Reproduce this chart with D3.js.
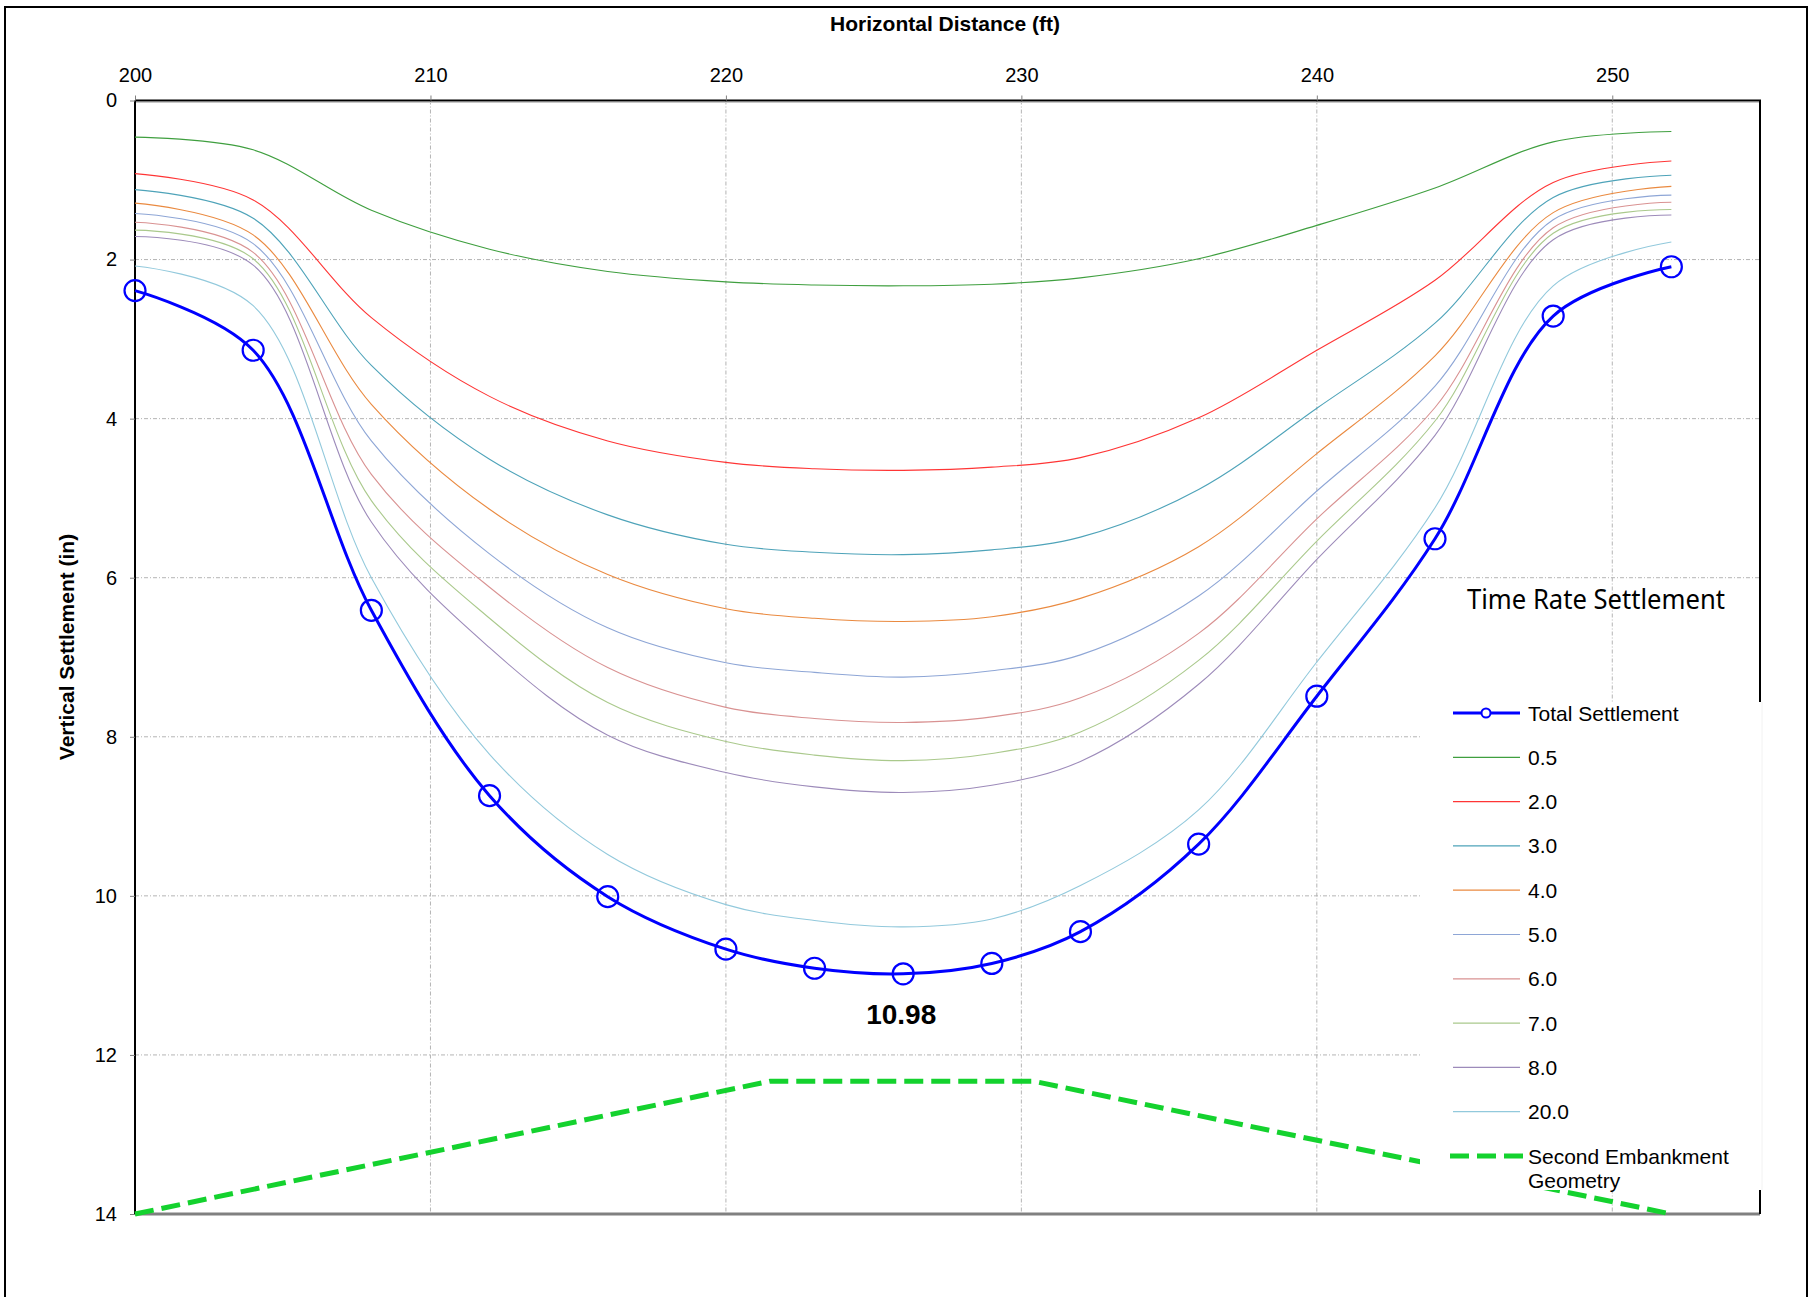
<!DOCTYPE html>
<html>
<head>
<meta charset="utf-8">
<script src="https://cdn.jsdelivr.net/npm/d3@7"></script>
<style>
  body { margin: 0; background: #fff; }
  text { font-family: "Liberation Sans", Arial, sans-serif; }
</style>
</head>
<body>
<div id="chart"></div>
<script>
// data
var xs = [200, 204, 208, 212, 216, 220, 223, 226, 229, 232, 236, 240, 244, 248, 252];
var totalSettlement = [2.39, 3.14, 6.41, 8.74, 10.01, 10.67, 10.91, 10.98, 10.85, 10.45, 9.35, 7.49, 5.51, 2.71, 2.09];
var t05 = [0.46, 0.62, 1.38, 1.87, 2.15, 2.28, 2.32, 2.33, 2.31, 2.23, 1.99, 1.57, 1.10, 0.52, 0.39];
var t20 = [0.92, 1.25, 2.73, 3.72, 4.28, 4.55, 4.63, 4.65, 4.61, 4.49, 3.99, 3.14, 2.26, 1.03, 0.76];
var t30 = [1.12, 1.48, 3.33, 4.51, 5.21, 5.58, 5.68, 5.71, 5.65, 5.49, 4.89, 3.87, 2.80, 1.22, 0.94];
var t40 = [1.29, 1.69, 3.82, 5.14, 5.96, 6.39, 6.51, 6.55, 6.49, 6.26, 5.61, 4.44, 3.21, 1.41, 1.08];
var t50 = [1.42, 1.80, 4.28, 5.70, 6.63, 7.07, 7.19, 7.25, 7.17, 6.97, 6.23, 4.91, 3.59, 1.50, 1.19];
var t60 = [1.53, 1.91, 4.70, 6.12, 7.13, 7.63, 7.77, 7.82, 7.75, 7.51, 6.70, 5.26, 3.86, 1.60, 1.28];
var t70 = [1.63, 1.99, 5.03, 6.51, 7.57, 8.06, 8.23, 8.30, 8.21, 7.94, 7.04, 5.54, 4.03, 1.67, 1.37];
var t80 = [1.71, 2.07, 5.30, 6.88, 7.98, 8.45, 8.63, 8.70, 8.61, 8.31, 7.34, 5.77, 4.21, 1.75, 1.44];
var t200 = [2.08, 2.58, 6.00, 8.22, 9.48, 10.11, 10.31, 10.39, 10.29, 9.87, 8.92, 7.06, 5.12, 2.33, 1.78];
var timeLabels = ["0.5", "2.0", "3.0", "4.0", "5.0", "6.0", "7.0", "8.0", "20.0"];
var embankX = [200, 221.5, 230.4, 252];
var embankY = [14, 12.33, 12.33, 14];
var xTicks = [200, 210, 220, 230, 240, 250];
var yTicks = [0, 2, 4, 6, 8, 10, 12, 14];

var timeSeries = [t05, t20, t30, t40, t50, t60, t70, t80, t200];
var timeColors = ["#3f9f3f", "#ff3535", "#4ea3b9", "#ea8a40", "#8ea6d6", "#d99292", "#aac98c", "#9d8bba", "#92c9dc"];

var svgWidth = 1813;
var svgHeight = 1297;
var plot = { left: 135, top: 100.5, right: 1760, bottom: 1214 };

var svg = d3.select("#chart")
    .append("svg")
    .attr("width", svgWidth)
    .attr("height", svgHeight);

var x = d3.scaleLinear().domain([200, 255]).range([plot.left, plot.right]);
var y = d3.scaleLinear().domain([0, 14]).range([plot.top, plot.bottom]);

// outer frame
svg.append("rect")
    .attr("x", 5).attr("y", 7)
    .attr("width", 1802).attr("height", 1310)
    .attr("fill", "none").attr("stroke", "#000").attr("stroke-width", 2);

// gridlines
svg.append("g").selectAll("line")
    .data(xTicks.slice(1))
    .enter().append("line")
    .attr("x1", d => x(d)).attr("x2", d => x(d))
    .attr("y1", plot.top).attr("y2", plot.bottom)
    .attr("stroke", "#b4b4b4").attr("stroke-width", 1)
    .attr("stroke-dasharray", "4,2,1,2");

svg.append("g").selectAll("line")
    .data(yTicks.slice(1, -1))
    .enter().append("line")
    .attr("x1", plot.left).attr("x2", plot.right)
    .attr("y1", d => y(d)).attr("y2", d => y(d))
    .attr("stroke", "#b4b4b4").attr("stroke-width", 1)
    .attr("stroke-dasharray", "4,2,1,2");

// plot area border
svg.append("line")
    .attr("x1", plot.left).attr("x2", plot.right)
    .attr("y1", plot.bottom).attr("y2", plot.bottom)
    .attr("stroke", "#808080").attr("stroke-width", 3);
svg.append("line")
    .attr("x1", plot.left).attr("x2", plot.right)
    .attr("y1", plot.top + 2).attr("y2", plot.top + 2)
    .attr("stroke", "#c8c8c8").attr("stroke-width", 1);
svg.append("line")
    .attr("x1", plot.left).attr("x2", plot.right + 1)
    .attr("y1", plot.top).attr("y2", plot.top)
    .attr("stroke", "#000").attr("stroke-width", 2);
svg.append("line")
    .attr("x1", plot.right).attr("x2", plot.right)
    .attr("y1", plot.top).attr("y2", plot.bottom)
    .attr("stroke", "#000").attr("stroke-width", 2);
svg.append("line")
    .attr("x1", plot.left).attr("x2", plot.left)
    .attr("y1", plot.top).attr("y2", plot.bottom)
    .attr("stroke", "#000").attr("stroke-width", 2);

// axes
var topAxis = d3.axisTop(x).tickValues(xTicks).tickSize(5).tickPadding(14).tickFormat(d3.format("d"));
var leftAxis = d3.axisLeft(y).tickValues(yTicks).tickSize(5).tickPadding(13).tickFormat(d3.format("d"));

var gx = svg.append("g").attr("transform", `translate(0, ${plot.top})`).call(topAxis);
var gy = svg.append("g").attr("transform", `translate(${plot.left}, 0)`).call(leftAxis);
[gx, gy].forEach(function(g) {
    g.select(".domain").remove();
    g.selectAll(".tick line").attr("stroke", "#808080");
    g.selectAll(".tick text")
        .attr("fill", "#000")
        .style("font-size", "20px")
        .style("font-family", "'Liberation Sans', Arial, sans-serif");
});

// axis titles
svg.append("text")
    .attr("x", 945).attr("y", 31)
    .attr("text-anchor", "middle")
    .style("font-size", "21px").style("font-weight", "bold")
    .text("Horizontal Distance (ft)");

svg.append("text")
    .attr("transform", "translate(74, 647) rotate(-90)")
    .attr("text-anchor", "middle")
    .style("font-size", "21px").style("font-weight", "bold")
    .text("Vertical Settlement (in)");

// embankment geometry
var embank = embankX.map((d, i) => [d, embankY[i]]);
svg.append("path")
    .datum(embank)
    .attr("fill", "none")
    .attr("stroke", "#14d22e")
    .attr("stroke-width", 5)
    .attr("stroke-dasharray", "19,8")
    .attr("d", d3.line().x(d => x(d[0])).y(d => y(d[1])));

// time rate lines
var smooth = d3.line().x(d => x(d[0])).y(d => y(d[1])).curve(d3.curveCatmullRom);
timeSeries.forEach(function(vals, i) {
    svg.append("path")
        .datum(xs.map((d, j) => [d, vals[j]]))
        .attr("fill", "none")
        .attr("stroke", timeColors[i])
        .attr("stroke-width", 1.1)
        .attr("d", smooth);
});

// total settlement
var totalPts = xs.map((d, j) => [d, totalSettlement[j]]);
svg.append("path")
    .datum(totalPts)
    .attr("fill", "none")
    .attr("stroke", "#0000ff")
    .attr("stroke-width", 3)
    .attr("d", smooth);

svg.append("g").selectAll("circle")
    .data(totalPts)
    .enter().append("circle")
    .attr("cx", d => x(d[0]))
    .attr("cy", d => y(d[1]))
    .attr("r", 10.5)
    .attr("fill", "none")
    .attr("stroke", "#0000ff")
    .attr("stroke-width", 2.2);

// max label
var maxIdx = d3.maxIndex(totalSettlement);
svg.append("text")
    .attr("x", x(xs[maxIdx]) - 2)
    .attr("y", y(totalSettlement[maxIdx]) + 50)
    .attr("text-anchor", "middle")
    .style("font-size", "28px").style("font-weight", "bold")
    .text(totalSettlement[maxIdx].toFixed(2));

// legend
svg.append("text")
    .attr("x", 1467).attr("y", 609)
    .attr("textLength", 258)
    .attr("lengthAdjust", "spacingAndGlyphs")
    .style("font-family", "'Noto Sans', 'Open Sans', sans-serif")
    .style("font-size", "27px")
    .text("Time Rate Settlement");

svg.append("rect")
    .attr("x", 1420).attr("y", 702)
    .attr("width", 342).attr("height", 488)
    .attr("fill", "#fff");
svg.append("line")
    .attr("x1", 1762).attr("x2", 1762)
    .attr("y1", 702).attr("y2", 1190)
    .attr("stroke", "#f2f2f2");

var legend = svg.append("g");
var rowY = d3.range(11).map(i => 713 + i * 44.3);

legend.append("line")
    .attr("x1", 1453).attr("x2", 1520)
    .attr("y1", rowY[0]).attr("y2", rowY[0])
    .attr("stroke", "#0000ff").attr("stroke-width", 3);
legend.append("circle")
    .attr("cx", 1486).attr("cy", rowY[0]).attr("r", 4.5)
    .attr("fill", "#fff").attr("stroke", "#0000ff").attr("stroke-width", 2);
legend.append("text")
    .attr("x", 1528).attr("y", rowY[0]).attr("dy", "0.36em")
    .style("font-size", "21px")
    .text("Total Settlement");

timeLabels.forEach(function(lab, i) {
    var yy = rowY[i + 1];
    legend.append("line")
        .attr("x1", 1453).attr("x2", 1520)
        .attr("y1", yy).attr("y2", yy)
        .attr("stroke", timeColors[i]).attr("stroke-width", 1.2);
    legend.append("text")
        .attr("x", 1528).attr("y", yy).attr("dy", "0.36em")
        .style("font-size", "21px")
        .text(lab);
});

var lastY = rowY[10];
legend.append("line")
    .attr("x1", 1450).attr("x2", 1523)
    .attr("y1", lastY).attr("y2", lastY)
    .attr("stroke", "#14d22e").attr("stroke-width", 5)
    .attr("stroke-dasharray", "19,8");
legend.append("text")
    .attr("x", 1528).attr("y", lastY).attr("dy", "0.36em")
    .style("font-size", "21px")
    .text("Second Embankment");
legend.append("text")
    .attr("x", 1528).attr("y", lastY + 24).attr("dy", "0.36em")
    .style("font-size", "21px")
    .text("Geometry");
</script>
</body>
</html>
